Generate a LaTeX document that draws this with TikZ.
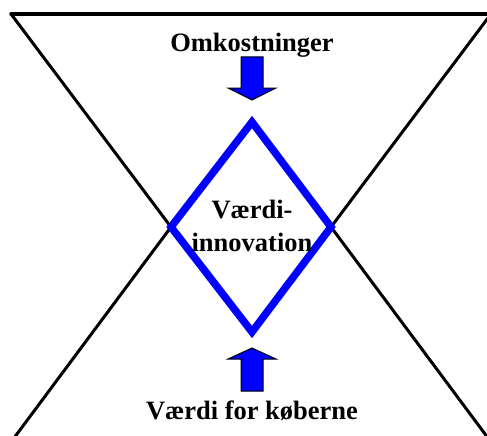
\documentclass[tikz,border=0pt]{standalone}
\usepackage{fontspec}
\setmainfont{Liberation Serif}
\definecolor{diamondblue}{RGB}{0,0,255}
\definecolor{arrowblue}{RGB}{0,0,255}
\newcommand{\blockarrow}[4]{%
  \filldraw[fill=arrowblue, draw=black, line width=1pt, line join=miter]
    (#1-11,#2) -- (#1+11,#2) -- (#1+11,#3) -- (#1+24,#3) -- (#1,#4)
    -- (#1-24,#3) -- (#1-11,#3) -- cycle;
}
\tikzset{
  label/.style={font=\fontsize{26.5}{33}\selectfont\bfseries, inner sep=0pt},
  frame/.style={draw=black, line width=3pt, line cap=round},
}

\begin{document}
\begin{tikzpicture}[x=1pt, y=-1pt]
    \useasboundingbox (0,0) rectangle (487,436);
    % Corners of the hourglass
    \coordinate (tl) at (11,14);
    \coordinate (tr) at (491,14);
    \coordinate (bl) at (14,438);
    \coordinate (br) at (488,438);
    % Diamond
    \coordinate (top) at (252,122);
    \coordinate (bottom) at (252,332);
    \coordinate (left) at (171,227);
    \coordinate (right) at (331,227);
    % Hourglass outline
    \draw[frame, line width=3.4pt] (tl) -- (tr);
    \draw[frame] (tl) -- (left) -- (bl);
    \draw[frame] (tr) -- (right) -- (br);
    \draw[diamondblue, line width=7.5pt, line join=miter]
      (top) -- (right) -- (bottom) -- (left) -- cycle;
    % Block arrows (x, tail y, head y, tip y)
    \blockarrow{252}{57}{88}{100}
    \blockarrow{252}{391}{359}{348}
    % Labels
    \node[label, anchor=base] (cost) at (252,52) {Omkostninger};
    \node[label, align=center] (innov) at (252,226) {Værdi-\\innovation};
    \node[label, anchor=base] (value) at (252,419) {Værdi for køberne};
\end{tikzpicture}
\end{document}
